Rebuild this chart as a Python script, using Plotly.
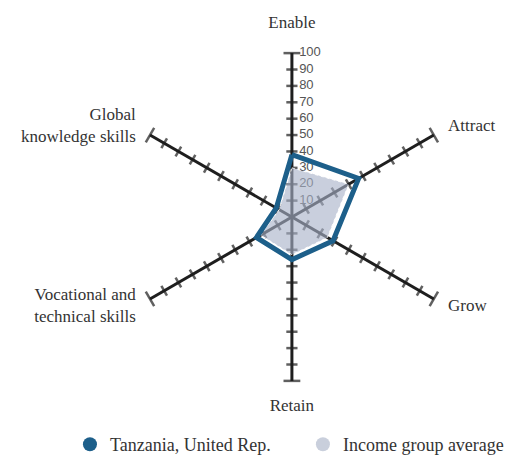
import plotly.graph_objects as go

# --- DATA ---
categories = ["Enable", "Attract", "Grow", "Retain",
              "Vocational and technical skills", "Global knowledge skills"]
category_labels = ["Enable", "Attract", "Grow", "Retain",
                   "Vocational and<br>technical skills", "Global<br>knowledge skills"]
tanzania = [38, 47, 29, 26, 25, 11]
income_group_avg = [30, 40, 25, 23, 22, 9]
tick_values = [10, 20, 30, 40, 50, 60, 70, 80, 90, 100]

# --- STYLE ---
AXIS_COLOR = "#1e1e1e"
TZ_COLOR = "#1d5f8a"
AVG_COLOR = "rgba(168,178,200,0.62)"
SERIF = "Liberation Serif"
R_MAX = tick_values[-1]

fig = go.Figure()

# spokes: centre to 100 on every category
spoke_r, spoke_theta = [], []
for cat in categories:
    spoke_r += [0, R_MAX, None]
    spoke_theta += [cat, cat, None]
fig.add_trace(go.Scatterpolar(
    r=spoke_r, theta=spoke_theta, mode="lines",
    line=dict(color=AXIS_COLOR, width=3),
    hoverinfo="skip", showlegend=False,
))

# tick marks across every spoke (perpendicular to the spoke)
tick_r, tick_theta, tick_angle, tick_size = [], [], [], []
for i, cat in enumerate(categories):
    for v in tick_values:
        tick_r.append(v)
        tick_theta.append(cat)
        tick_angle.append(60 * i)
        tick_size.append(12 if v == R_MAX else 8)
fig.add_trace(go.Scatterpolar(
    r=tick_r, theta=tick_theta, mode="markers",
    marker=dict(symbol="line-ew", size=tick_size, angle=tick_angle,
                line=dict(color=AXIS_COLOR, width=2.5)),
    hoverinfo="skip", showlegend=False,
))

# tick labels on the Enable spoke
fig.add_trace(go.Scatterpolar(
    r=tick_values, theta=[categories[0]] * len(tick_values),
    mode="text", text=["\u00a0\u00a0" + str(v) for v in tick_values],
    textposition="middle right",
    textfont=dict(family="Liberation Sans", size=13, color="#555555"),
    hoverinfo="skip", showlegend=False,
))

# income group average (filled)
fig.add_trace(go.Scatterpolar(
    r=income_group_avg + income_group_avg[:1],
    theta=categories + categories[:1],
    mode="lines", fill="toself", fillcolor=AVG_COLOR,
    line=dict(color="rgba(255,255,255,0.9)", width=1, dash="dot"),
    name="Income group average", showlegend=False,
))

# Tanzania (outline)
fig.add_trace(go.Scatterpolar(
    r=tanzania + tanzania[:1],
    theta=categories + categories[:1],
    mode="lines", line=dict(color=TZ_COLOR, width=5),
    name="Tanzania, United Rep.", showlegend=False,
))

# category labels placed outside the spokes
label_r = [118, 110, 110, 116, 110, 110]
label_pos = ["middle center", "middle right", "middle right",
             "middle center", "middle left", "middle left"]
fig.add_trace(go.Scatterpolar(
    r=label_r, theta=categories, mode="text", text=category_labels,
    textposition=label_pos, cliponaxis=False,
    textfont=dict(family=SERIF, size=17, color="#333333"),
    hoverinfo="skip", showlegend=False,
))

# legend entries (circles), one legend box each so they sit apart
for name, color, leg in [("Tanzania, United Rep.", TZ_COLOR, "legend"),
                         ("Income group average", "#c9cfdc", "legend2")]:
    fig.add_trace(go.Scatterpolar(
        r=[None], theta=[None], mode="markers", name=name, legend=leg,
        marker=dict(symbol="circle", size=14, color=color),
    ))

legend_style = dict(
    orientation="h", xanchor="left", y=0.0, yanchor="bottom",
    bgcolor="rgba(0,0,0,0)",
    font=dict(family=SERIF, size=18, color="#333333"),
)

fig.update_layout(
    width=512, height=455,
    margin=dict(l=0, r=0, t=0, b=0, autoexpand=False),
    paper_bgcolor="white",
    font=dict(family=SERIF, size=16, color="#333333"),
    polar=dict(
        domain=dict(x=[0.164, 0.945], y=[0.1011, 0.9802]),
        bgcolor="white",
        radialaxis=dict(range=[0, 122], visible=False),
        angularaxis=dict(
            categoryorder="array", categoryarray=categories,
            rotation=90, direction="clockwise",
            showticklabels=False, ticks="", showline=False, showgrid=False,
        ),
    ),
    legend=dict(x=0.121, **legend_style),
    legend2=dict(x=0.576, **legend_style),
)

fig.write_html("out.html")
